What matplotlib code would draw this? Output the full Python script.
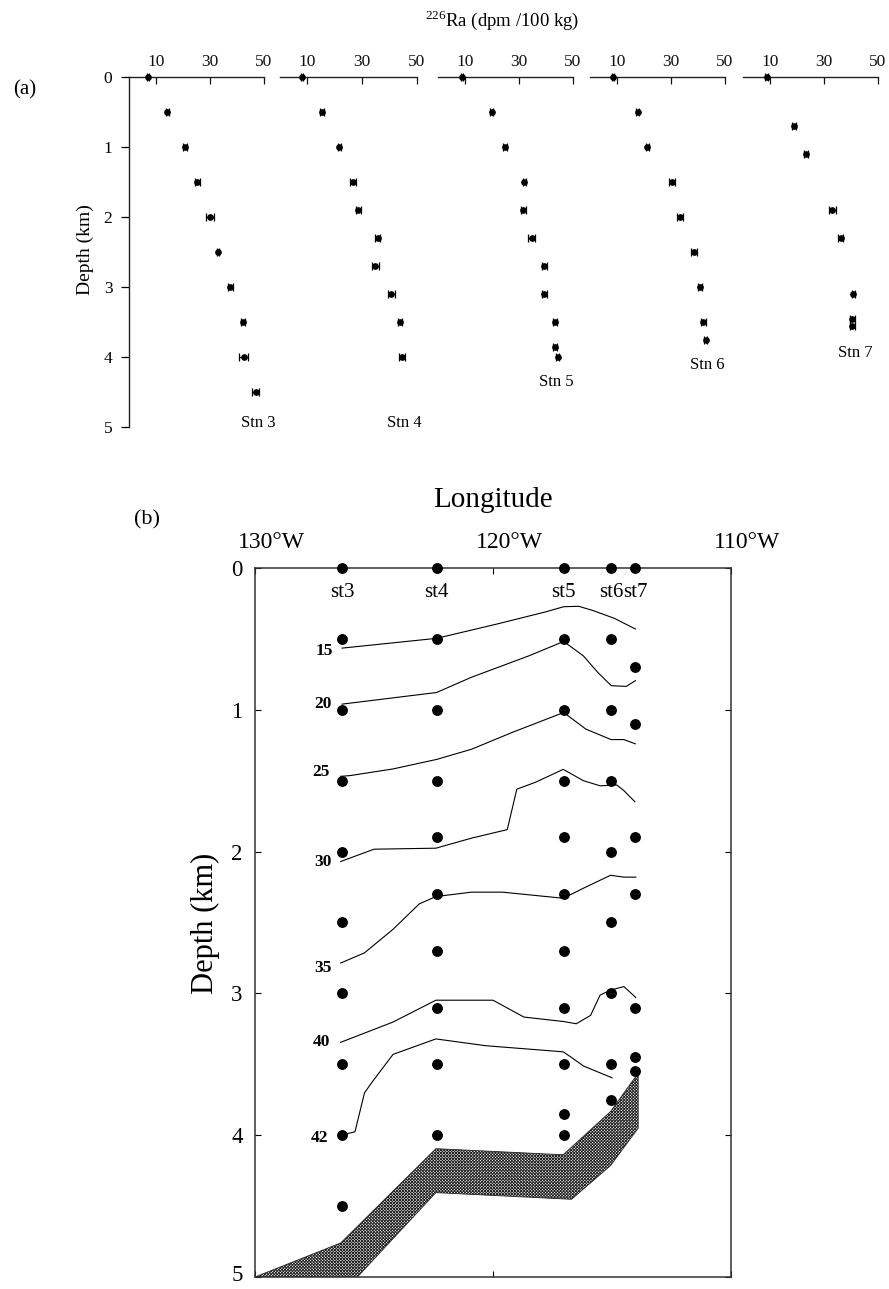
import numpy as np
import matplotlib
matplotlib.use("Agg")
import matplotlib.pyplot as plt
from matplotlib.transforms import ScaledTranslation

plt.rcParams['font.family'] = ['Liberation Serif', 'DejaVu Serif']
plt.rcParams['mathtext.fontset'] = 'custom'
plt.rcParams['mathtext.rm'] = 'Liberation Serif'
plt.rcParams['hatch.linewidth'] = 0.65

# ---------------- Panel (a) data: 226Ra profiles ----------------
stn_names = ['Stn 3', 'Stn 4', 'Stn 5', 'Stn 6', 'Stn 7']

stn3_depth = [0, 0.5, 1.0, 1.5, 2.0, 2.5, 3.0, 3.5, 4.0, 4.5]
stn3_ra = [7.0, 14.2, 20.7, 25.3, 30.0, 33.0, 37.5, 42.2, 42.5, 47.0]
stn3_err = [0.3, 0.6, 0.6, 0.9, 1.3, 0.3, 1.0, 0.9, 1.7, 1.3]

stn4_depth = [0, 0.5, 1.0, 1.5, 1.9, 2.3, 2.7, 3.1, 3.5, 4.0]
stn4_ra = [8.1, 15.4, 21.8, 26.7, 28.7, 35.8, 34.9, 40.7, 43.9, 44.7]
stn4_err = [0.3, 0.6, 0.6, 1.2, 1.0, 0.9, 1.2, 1.2, 0.8, 1.1]

stn5_depth = [0, 0.5, 1.0, 1.5, 1.9, 2.3, 2.7, 3.1, 3.5, 3.85, 4.0]
stn5_ra = [8.8, 19.9, 24.8, 31.9, 31.6, 34.7, 39.4, 39.4, 43.3, 43.3, 44.3]
stn5_err = [0.3, 0.5, 0.6, 0.6, 0.9, 1.2, 0.9, 1.0, 0.8, 0.6, 0.6]

stn6_depth = [0, 0.5, 1.0, 1.5, 2.0, 2.5, 3.0, 3.5, 3.75]
stn6_ra = [8.6, 17.7, 21.2, 30.5, 33.3, 38.5, 40.7, 42.0, 42.8]
stn6_err = [0.3, 0.5, 0.6, 1.1, 1.2, 1.1, 0.8, 0.8, 0.5]

stn7_depth = [0, 0.7, 1.1, 1.9, 2.3, 3.1, 3.45, 3.55]
stn7_ra = [8.8, 18.9, 23.3, 33.1, 36.2, 40.9, 40.5, 40.5]
stn7_err = [0.6, 0.9, 0.6, 1.2, 1.0, 0.4, 0.8, 1.0]

stn_label_x = [47.8, 45.5, 44.0, 43.3, 41.5]
stn_label_depth = [4.94, 4.94, 4.36, 4.11, 3.94]

ra_ticks = [10, 30, 50]
depth_ticks = [0, 1, 2, 3, 4, 5]

# ---------------- Panel (b) data: section ----------------
stn_lon = [126.34, 122.37, 117.03, 115.03, 114.02]
stn_short = ['st3', 'st4', 'st5', 'st6', 'st7']

c15_lon = [126.34, 122.37, 119.83, 117.8, 117.03, 116.4, 115.8, 114.9, 114.02]
c15_depth = [0.565, 0.496, 0.395, 0.31, 0.273, 0.27, 0.30, 0.355, 0.43]

c20_lon = [126.34, 122.37, 120.9, 118.5, 117.03, 116.2, 115.6, 115.03, 114.4, 114.02]
c20_depth = [0.96, 0.878, 0.77, 0.62, 0.518, 0.62, 0.736, 0.83, 0.835, 0.795]

c25_lon = [126.4, 126.0, 124.2, 122.37, 120.9, 119.2, 117.03, 116.1, 115.04, 114.5, 114.02]
c25_depth = [1.469, 1.464, 1.417, 1.35, 1.278, 1.16, 1.019, 1.136, 1.21, 1.21, 1.24]

c30_lon = [126.4, 125.0, 122.4, 120.9, 119.4, 119.0, 118.2, 117.05, 116.2, 115.5, 114.8, 114.5, 114.04]
c30_depth = [2.07, 1.983, 1.976, 1.905, 1.845, 1.56, 1.51, 1.42, 1.50, 1.536, 1.53, 1.57, 1.648]

c35_lon = [126.4, 125.4, 124.2, 123.1, 122.4, 120.9, 119.6, 117.05, 116.1, 115.06, 114.5, 114.0]
c35_depth = [2.786, 2.714, 2.548, 2.369, 2.317, 2.286, 2.286, 2.329, 2.25, 2.167, 2.18, 2.18]

c40_lon = [126.4, 124.2, 122.4, 120.0, 118.7, 117.05, 116.5, 115.9, 115.5, 115.05, 114.5, 114.0]
c40_depth = [3.345, 3.202, 3.048, 3.048, 3.167, 3.198, 3.214, 3.155, 3.012, 2.976, 2.952, 3.029]

c42_lon = [126.4, 125.8, 125.4, 125.1, 124.2, 122.4, 120.3, 117.05, 116.7, 116.2, 115.0]
c42_depth = [4.0, 3.976, 3.702, 3.63, 3.43, 3.321, 3.369, 3.412, 3.452, 3.512, 3.595]

contour_values = ['15', '20', '25', '30', '35', '40', '42']
contour_label_lon = [127.08, 127.16, 127.22, 127.15, 127.15, 127.2, 127.3]
contour_label_depth = [0.584, 0.96, 1.44, 2.07, 2.82, 3.345, 4.02]

bathy_top_lon = [130.0, 126.4, 122.4, 117.05, 115.06, 114.04, 113.9]
bathy_top_depth = [5.0, 4.76, 4.095, 4.138, 3.833, 3.595, 3.58]
bathy_bot_lon = [113.9, 115.06, 116.7, 122.4, 125.7]
bathy_bot_depth = [3.95, 4.214, 4.452, 4.405, 5.0]

lon_ticks = [130, 120, 110]
lon_labels = ['130°W', '120°W', '110°W']

# ---------------- Figure ----------------
W, H = 889, 1289
fig = plt.figure(figsize=(W / 100, H / 100), dpi=100)

def fx(px):
    return px / W

def fy(py):
    return 1 - py / H

panel_px = [(129, 264), (279.5, 417), (438, 573), (590, 725), (743, 878)]
a_top, a_bot = 77, 427

profiles = [
    (stn3_ra, stn3_depth, stn3_err),
    (stn4_ra, stn4_depth, stn4_err),
    (stn5_ra, stn5_depth, stn5_err),
    (stn6_ra, stn6_depth, stn6_err),
    (stn7_ra, stn7_depth, stn7_err),
]

for i, ((x0, x1), (ra, dep, err)) in enumerate(zip(panel_px, profiles)):
    ax = fig.add_axes([fx(x0), fy(a_bot), (x1 - x0) / W, (a_bot - a_top) / H])
    ax.set_xlim(0, 50)
    ax.set_ylim(5, 0)
    ax.patch.set_alpha(0)
    for s in ['bottom', 'right']:
        ax.spines[s].set_visible(False)
    ax.spines['top'].set_linewidth(1.0)
    ax.spines['top'].set_color('#222222')
    ax.xaxis.tick_top()
    ax.set_xticks(ra_ticks)
    ax.tick_params(axis='x', direction='in', length=5, width=0.9, pad=5,
                   labelsize=12.5, colors='#111111')
    if i == 0:
        ax.spines['left'].set_linewidth(1.0)
        ax.spines['left'].set_color('#222222')
        ax.set_yticks(depth_ticks)
        ax.tick_params(axis='y', direction='out', length=6, width=0.9, pad=6,
                       labelsize=12.5)
    else:
        ax.spines['left'].set_visible(False)
        ax.set_yticks([])
    ax.errorbar(ra, dep, xerr=err, fmt='o', ms=3.8, color='k', ecolor='k',
                elinewidth=0.9, capsize=2.6, capthick=0.9, clip_on=False, zorder=3)
    ax.text(stn_label_x[i], stn_label_depth[i], stn_names[i], ha='center',
            va='center', fontsize=12)

fig.text(fx(502), fy(20), r'$^{226}$Ra (dpm /100 kg)', ha='center', va='center',
         fontsize=13.5)
fig.text(fx(25), fy(90), '(a)', ha='center', va='center', fontsize=15)
fig.text(fx(85), fy(250), 'Depth (km)', rotation=90, ha='center', va='center',
         fontsize=14)

# ---------------- Panel (b) ----------------
b_left, b_right, b_top, b_bot = 255, 731, 568, 1277
axb = fig.add_axes([fx(b_left), fy(b_bot), (b_right - b_left) / W, (b_bot - b_top) / H])
axb.set_xlim(130, 110)
axb.set_ylim(5, 0)
for s in axb.spines.values():
    s.set_linewidth(1.1)
    s.set_color('#333333')

axb.xaxis.tick_top()
axb.set_xticks(lon_ticks)
axb.set_xticklabels(lon_labels)
axb.tick_params(axis='x', which='both', top=True, bottom=True, direction='in',
                length=4, pad=11, labelsize=17)
shift = ScaledTranslation(16 / 100, 0, fig.dpi_scale_trans)
for lbl in axb.get_xticklabels():
    lbl.set_transform(lbl.get_transform() + shift)
axb.set_yticks(depth_ticks)
axb.tick_params(axis='y', left=True, right=True, direction='in', length=4,
                pad=9, labelsize=16.5)
up = ScaledTranslation(0, 4 / 100, fig.dpi_scale_trans)
ylbls = axb.get_yticklabels()
ylbls[-1].set_transform(ylbls[-1].get_transform() + up)

# bathymetry
poly_lon = bathy_top_lon + bathy_bot_lon
poly_dep = bathy_top_depth + bathy_bot_depth
axb.fill(poly_lon, poly_dep, facecolor='white', edgecolor='#222222',
         hatch='x' * 11, linewidth=0.6, zorder=2)

# contours
contours = [(c15_lon, c15_depth), (c20_lon, c20_depth), (c25_lon, c25_depth),
            (c30_lon, c30_depth), (c35_lon, c35_depth), (c40_lon, c40_depth),
            (c42_lon, c42_depth)]
for (lo, de) in contours:
    axb.plot(lo, de, color='k', lw=0.8, zorder=3)
for v, lo, de in zip(contour_values, contour_label_lon, contour_label_depth):
    axb.text(lo, de, v, ha='center', va='center', fontsize=12.5, fontweight='bold',
             zorder=4)

# sample dots
all_depths = [stn3_depth, stn4_depth, stn5_depth, stn6_depth, stn7_depth]
for lo, deps in zip(stn_lon, all_depths):
    axb.plot([lo] * len(deps), deps, 'o', color='k', ms=6.8, clip_on=False, zorder=5)

for lo, name in zip(stn_lon, stn_short):
    axb.text(lo, 0.17, name, ha='center', va='center', fontsize=15)

fig.text(fx(493), fy(500), 'Longitude', ha='center', va='center', fontsize=21)
fig.text(fx(147), fy(520), '(b)', ha='center', va='center', fontsize=16)
fig.text(fx(205), fy(923), 'Depth (km)', rotation=90, ha='center', va='center',
         fontsize=22)

fig.savefig('out.png', dpi=100, facecolor='white')
